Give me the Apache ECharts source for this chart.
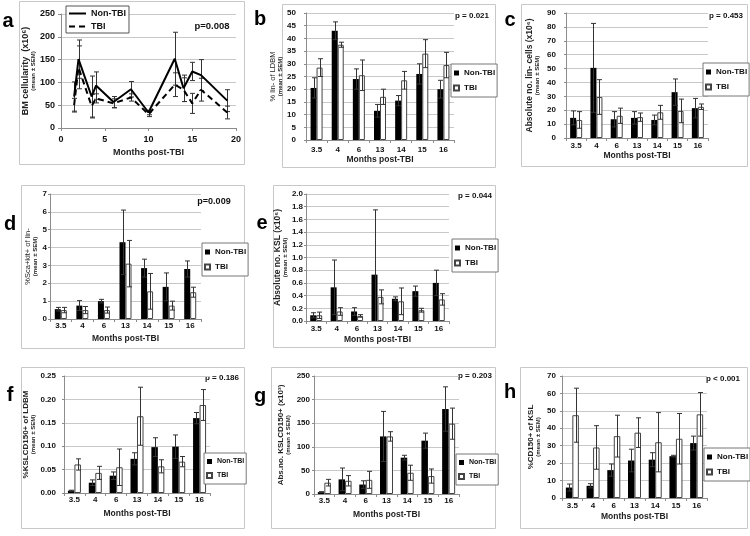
<!DOCTYPE html>
<html><head><meta charset="utf-8">
<script src="https://cdn.jsdelivr.net/npm/echarts@6/dist/echarts.min.js"></script>
<style>html,body{margin:0;padding:0;background:#fff}#c{width:750px;height:536px}</style>
</head><body><div id="c"></div>
<script>
// ---------- DATA ----------
const months = ['3.5', '4', '6', '13', '14', '15', '16'];
const legendNames = ['Non-TBI', 'TBI'];

// panel a (line chart)
const aMonths   = [1.5, 2, 3.5, 4, 6, 8, 10, 13, 14, 15, 16, 19];
const aNon      = [69, 151, 69, 93, 57, 85, 34, 152, 87, 124, 116, 60];
const aNonErr   = [32, 42, 45, 30, 12, 17, 5, 58, 29, 20, 34, 24];
const aTbi      = [50, 133, 48, 65, 54, 67, 30, 95, 84, 54, 84, 34];
const aTbiErr   = [15, 47, 26, 10, 10, 8, 5, 26, 26, 22, 25, 14];

// panel b
const bNon = [20.5, 43, 24, 11.5, 15.5, 26, 20];
const bNonErr = [4, 3.5, 4, 2.5, 2, 4, 3.5];
const bTbi = [28.5, 37.5, 25.5, 17, 23.5, 34, 29.5];
const bTbiErr = [3.5, 1, 6, 3, 3.5, 5.5, 5];
// panel c
const cNon = [14.5, 50.5, 13.5, 14.5, 13, 33, 21.5];
const cNonErr = [5, 32, 5.5, 4.5, 3.5, 9.5, 7];
const cTbi = [13, 29.5, 16, 15, 18.5, 19.5, 22.5];
const cTbiErr = [6, 12.5, 5.5, 3, 5, 8.5, 2];
// panel d
const dNon = [0.55, 0.75, 1.0, 4.3, 2.85, 1.8, 2.8];
const dNonErr = [0.1, 0.28, 0.1, 1.8, 0.5, 0.78, 0.45];
const dTbi = [0.5, 0.5, 0.5, 3.1, 1.55, 0.75, 1.5];
const dTbiErr = [0.15, 0.2, 0.17, 1.3, 1.0, 0.25, 0.28];
// panel e
const eNon = [0.09, 0.53, 0.15, 0.73, 0.35, 0.47, 0.6];
const eNonErr = [0.04, 0.43, 0.06, 1.02, 0.03, 0.08, 0.2];
const eTbi = [0.09, 0.15, 0.08, 0.38, 0.31, 0.17, 0.34];
const eTbiErr = [0.05, 0.06, 0.02, 0.11, 0.21, 0.03, 0.09];
// panel f
const fNon = [0.005, 0.022, 0.037, 0.073, 0.098, 0.099, 0.16];
const fNonErr = [0.001, 0.006, 0.008, 0.013, 0.02, 0.025, 0.012];
const fTbi = [0.061, 0.043, 0.055, 0.164, 0.057, 0.067, 0.188];
const fTbiErr = [0.012, 0.014, 0.039, 0.062, 0.014, 0.011, 0.033];
// panel g
const gNon = [4, 31, 20, 122, 77, 113, 180];
const gNonErr = [1, 24, 8, 53, 5, 16, 47];
const gTbi = [24, 28, 30, 122, 45, 38, 149];
const gTbiErr = [7, 11, 18, 10, 16, 15, 33];
// panel h
const hNon = [6, 7, 16, 21.5, 22, 24, 31.5];
const hNonErr = [2, 1.2, 3.5, 6.5, 4, 0.5, 4];
const hTbi = [47.5, 29, 35.5, 37.5, 32, 34, 48];
const hTbiErr = [15.5, 12.5, 12, 8.5, 17, 14.5, 12.5];

const pValues = {a: 'p=0.008', b: 'p = 0.021', c: 'p = 0.453', d: 'p=0.009', e: 'p = 0.044', f: 'p = 0.186', g: 'p = 0.203', h: 'p < 0.001'};
const yTitles = {
  a: 'BM cellularity  (x10\u2076)', b: '% lin- of LDBM', c: 'Absolute no. lin- cells (x10\u2076)',
  d: '%Sca+kit+ of lin-', e: 'Absolute no. KSL (x10\u2076)', f: '%KSLCD150+ of LDBM',
  g: 'Abs.no. KSLCD150+ (x10\u00b3)', h: '%CD150+ of KSL'
};
const ySub = '(mean \u00b1 SEM)';
const xTitle = 'Months post-TBI';

// ---------- LAYOUT / STYLE ----------
const FONT = 'Liberation Sans, Arial, Helvetica, sans-serif';
const GRID_C = '#c8c8c8', AXIS_C = '#8c8c8c', ERR_C = '#333';

const barPanels = [
  {id:'b', non:bNon, nonErr:bNonErr, tbi:bTbi, tbiErr:bTbiErr, max:50, int:5, dec:0,
   grid:{left:306, top:13, width:148, height:127}, ylm:10, yng:18, tf:7.5, tw:'normal', xlm:6, xng:12, bw:6,
   leg:{left:451, top:64, fs:8}, p:[472, 16, 8], L:[260, 19], frame:[282, 4, 495, 167]},
  {id:'c', non:cNon, nonErr:cNonErr, tbi:cTbi, tbiErr:cTbiErr, max:90, int:10, dec:0,
   grid:{left:566, top:13, width:142, height:125}, ylm:10, yng:26, tf:8.5, tw:'bold', xlm:4, xng:13, bw:6,
   leg:{left:703, top:63, fs:8}, p:[726, 16, 8], L:[510, 20], frame:[521, 4, 747, 166]},
  {id:'d', non:dNon, nonErr:dNonErr, tbi:dTbi, tbiErr:dTbiErr, max:7, int:1, dec:0,
   grid:{left:50, top:194, width:151, height:125}, ylm:3, yng:12, tf:7.5, tw:'normal', xlm:3, xng:15, bw:6,
   leg:{left:202, top:243, fs:8}, p:[214, 202, 9], L:[10, 224], frame:[21, 185, 244, 348]},
  {id:'e', non:eNon, nonErr:eNonErr, tbi:eTbi, tbiErr:eTbiErr, max:2, int:0.2, dec:1,
   grid:{left:306, top:194, width:143, height:127}, ylm:3, yng:16, tf:8.5, tw:'bold', xlm:4, xng:14, bw:6,
   leg:{left:452, top:239, fs:8}, p:[475, 196, 8], L:[262, 223], frame:[273, 185, 495, 347]},
  {id:'f', non:fNon, nonErr:fNonErr, tbi:fTbi, tbiErr:fTbiErr, max:0.25, int:0.05, dec:2,
   grid:{left:64, top:376, width:146, height:117}, ylm:8, yng:24, tf:8, tw:'bold', xlm:3, xng:16, bw:6.5,
   leg:{left:204, top:453, fs:7}, p:[222, 378, 8], L:[10, 395], frame:[21, 367, 244, 528]},
  {id:'g', non:gNon, nonErr:gNonErr, tbi:gTbi, tbiErr:gTbiErr, max:250, int:50, dec:0,
   grid:{left:314, top:376, width:145, height:118}, ylm:4, yng:23, tf:8, tw:'bold', xlm:3, xng:16, bw:6.5,
   leg:{left:456, top:454, fs:7}, p:[475, 376, 8], L:[260, 396], frame:[271, 367, 495, 528]},
  {id:'h', non:hNon, nonErr:hNonErr, tbi:hTbi, tbiErr:hTbiErr, max:70, int:10, dec:0,
   grid:{left:562, top:376, width:145, height:122}, ylm:6, yng:21, tf:8, tw:'bold', xlm:4, xng:14, bw:6.5,
   leg:{left:704, top:448, fs:8}, p:[723, 379, 8], L:[510, 392], frame:[520, 367, 747, 528]}
];

function yNameRich(main, fs, fw) {
  return {
    name: '{m|' + main + '}\n{s|' + ySub + '}',
    nameTextStyle: {
      rich: {
        m: {fontSize: fs, fontWeight: fw, fontFamily: FONT, color: '#222', lineHeight: 9},
        s: {fontSize: 6, fontWeight: 'bold', fontFamily: FONT, color: '#222', lineHeight: 6}
      }
    }
  };
}

function errRenderer(offset) {
  return function (params, api) {
    const x = api.value(0), v = api.value(1), e = api.value(2);
    const lo = Math.max(0, v - e);
    const top = api.coord([x, v + e]);
    const bot = api.coord([x, lo]);
    const cx = Math.round(top[0] + offset) + 0.5;
    const cap = 2.5;
    const st = {stroke: ERR_C, lineWidth: 1};
    const kids = [
      {type: 'line', shape: {x1: cx, y1: top[1], x2: cx, y2: bot[1]}, style: st},
      {type: 'line', shape: {x1: cx - cap, y1: top[1], x2: cx + cap, y2: top[1]}, style: st}
    ];
    if (v - e > 0) kids.push({type: 'line', shape: {x1: cx - cap, y1: bot[1], x2: cx + cap, y2: bot[1]}, style: st});
    return {type: 'group', children: kids};
  };
}

const grids = [], xAxes = [], yAxes = [], series = [], legends = [], graphics = [];
const labelStyle = {fontSize: 8, fontWeight: 'bold', fontFamily: FONT, color: '#111'};

// ---- panel a ----
grids.push({left: 61, top: 14, width: 175, height: 114});
xAxes.push({
  type: 'value', gridIndex: 0, min: 0, max: 20, interval: 5,
  axisLine: {show: true, lineStyle: {color: AXIS_C}}, axisTick: {show: true, length: 3, lineStyle: {color: AXIS_C}},
  splitLine: {show: false}, axisLabel: Object.assign({margin: 7}, labelStyle, {fontSize: 9}),
  name: xTitle, nameLocation: 'middle', nameGap: 20,
  nameTextStyle: {fontSize: 9, fontWeight: 'bold', fontFamily: FONT, color: '#222'}
});
yAxes.push(Object.assign({
  type: 'value', gridIndex: 0, min: 0, max: 250, interval: 50,
  axisLine: {show: true, lineStyle: {color: AXIS_C}}, axisTick: {show: true, length: 3, lineStyle: {color: AXIS_C}},
  splitLine: {show: true, lineStyle: {color: GRID_C}}, axisLabel: Object.assign({margin: 6}, labelStyle, {fontSize: 9}),
  nameLocation: 'middle', nameRotate: 90, nameGap: 20
}, yNameRich(yTitles.a, 9, 'bold')));
series.push({
  name: 'Non-TBI|a', type: 'line', xAxisIndex: 0, yAxisIndex: 0, symbol: 'none', z: 4,
  lineStyle: {color: '#000', width: 2}, itemStyle: {color: '#000'},
  data: aMonths.map((m, i) => [m, aNon[i]])
});
series.push({
  name: 'TBI|a', type: 'line', xAxisIndex: 0, yAxisIndex: 0, symbol: 'none', z: 4,
  lineStyle: {color: '#000', width: 2, type: [6, 4]}, itemStyle: {color: '#000'},
  data: aMonths.map((m, i) => [m, aTbi[i]])
});
series.push({type: 'custom', xAxisIndex: 0, yAxisIndex: 0, z: 3, renderItem: errRenderer(0),
  data: aMonths.map((m, i) => [m, aNon[i], aNonErr[i]])});
series.push({type: 'custom', xAxisIndex: 0, yAxisIndex: 0, z: 3, renderItem: errRenderer(0),
  data: aMonths.map((m, i) => [m, aTbi[i], aTbiErr[i]])});
legends.push({
  data: ['Non-TBI|a', 'TBI|a'], left: 66, top: 6, orient: 'vertical', selectedMode: false,
  formatter: n => n.split('|')[0], itemWidth: 17, itemHeight: 10, itemGap: 4,
  padding: [3, 3, 2, 2], borderColor: '#555', borderWidth: 1, backgroundColor: '#fff',
  itemStyle: {color: 'rgba(0,0,0,0)', borderColor: 'rgba(0,0,0,0)', borderWidth: 0},
  textStyle: {fontSize: 9, fontWeight: 'bold', fontFamily: FONT, color: '#111'}
});
graphics.push({type: 'rect', shape: {x: 19.5, y: 1.5, width: 225, height: 163}, style: {fill: 'none', stroke: GRID_C, lineWidth: 1}, z: -10});
graphics.push({type: 'text', x: 8, y: 21, style: {text: 'a', fontSize: 20, fontWeight: 'bold', fontFamily: FONT, fill: '#000', align: 'center', verticalAlign: 'middle'}});
graphics.push({type: 'text', x: 212, y: 26, style: {text: pValues.a, fontSize: 9.5, fontWeight: 'bold', fontFamily: FONT, fill: '#111', align: 'center', verticalAlign: 'middle'}});

// ---- bar panels ----
barPanels.forEach((P, k) => {
  const gi = k + 1;
  grids.push(P.grid);
  xAxes.push({
    type: 'category', gridIndex: gi, data: months, boundaryGap: true,
    axisLine: {show: true, lineStyle: {color: AXIS_C}},
    axisTick: {show: true, length: 3, interval: 0, lineStyle: {color: AXIS_C}},
    axisLabel: Object.assign({margin: P.xlm, interval: 0}, labelStyle),
    name: xTitle, nameLocation: 'middle', nameGap: P.xng,
    nameTextStyle: {fontSize: 8.5, fontWeight: 'bold', fontFamily: FONT, color: '#222'}
  });
  yAxes.push(Object.assign({
    type: 'value', gridIndex: gi, min: 0, max: P.max, interval: P.int,
    axisLine: {show: true, lineStyle: {color: AXIS_C}},
    axisTick: {show: true, length: 2, lineStyle: {color: AXIS_C}},
    splitLine: {show: true, lineStyle: {color: GRID_C}},
    axisLabel: Object.assign({margin: P.ylm, formatter: v => v.toFixed(P.dec)}, labelStyle),
    nameLocation: 'middle', nameRotate: 90, nameGap: P.yng
  }, yNameRich(yTitles[P.id], P.tf, P.tw)));
  series.push({
    name: 'Non-TBI|' + P.id, type: 'bar', xAxisIndex: gi, yAxisIndex: gi, barWidth: P.bw, barGap: '0%',
    itemStyle: {color: '#000'}, data: P.non
  });
  series.push({
    name: 'TBI|' + P.id, type: 'bar', xAxisIndex: gi, yAxisIndex: gi, barWidth: P.bw, barGap: '0%',
    itemStyle: {color: '#fff', borderColor: '#444', borderWidth: 1}, data: P.tbi
  });
  series.push({type: 'custom', xAxisIndex: gi, yAxisIndex: gi, z: 5, renderItem: errRenderer(-P.bw / 2),
    data: P.non.map((v, i) => [i, v, P.nonErr[i]])});
  series.push({type: 'custom', xAxisIndex: gi, yAxisIndex: gi, z: 5, renderItem: errRenderer(P.bw / 2),
    data: P.tbi.map((v, i) => [i, v, P.tbiErr[i]])});
  legends.push({
    data: ['Non-TBI|' + P.id, 'TBI|' + P.id], left: P.leg.left, top: P.leg.top, orient: 'vertical',
    selectedMode: false, formatter: n => n.split('|')[0], icon: 'rect',
    itemWidth: 5, itemHeight: 5, itemGap: 7, padding: [5, 2, 5, 2],
    borderColor: '#777', borderWidth: 1, backgroundColor: '#fff',
    textStyle: {fontSize: P.leg.fs, fontWeight: 'bold', fontFamily: FONT, color: '#111'}
  });
  const fr = P.frame;
  graphics.push({type: 'rect', shape: {x: fr[0] + 0.5, y: fr[1] + 0.5, width: fr[2] - fr[0], height: fr[3] - fr[1]},
    style: {fill: 'none', stroke: GRID_C, lineWidth: 1}, z: -10});
  graphics.push({type: 'text', x: P.L[0], y: P.L[1], style: {text: P.id, fontSize: 20, fontWeight: 'bold', fontFamily: FONT,
    fill: '#000', align: 'center', verticalAlign: 'middle'}});
  graphics.push({type: 'text', x: P.p[0], y: P.p[1], style: {text: pValues[P.id], fontSize: P.p[2], fontWeight: 'bold',
    fontFamily: FONT, fill: '#111', align: 'center', verticalAlign: 'middle'}});
});

const chart = echarts.init(document.getElementById('c'), null, {renderer: 'canvas'});
chart.setOption({
  backgroundColor: '#fff',
  animation: false,
  grid: grids, xAxis: xAxes, yAxis: yAxes, series: series, legend: legends,
  graphic: graphics
});
</script></body></html>
